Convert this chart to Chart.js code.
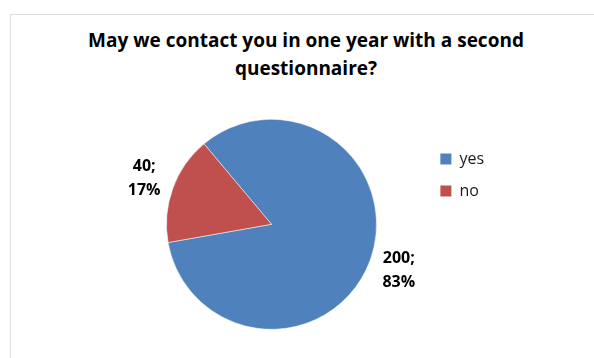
<!DOCTYPE html>
<html>
<head>
<meta charset="utf-8">
<script src="https://cdn.jsdelivr.net/npm/chart.js@4.4.0/dist/chart.umd.min.js"></script>
<style>
  html, body { margin: 0; padding: 0; background: #fff; overflow: hidden; }
  #wrap { position: relative; width: 594px; height: 358px; overflow: hidden; }
  #frame { position: absolute; left: 10px; top: 14px; width: 640px; height: 400px; border: 1px solid #dedede; }
  #title {
    position: absolute; left: 6px; top: 27px; width: 600px; margin: 0;
    font: bold 19px/27.5px "Open Sans", sans-serif; color: #000; text-align: center;
  }
  #chart { position: absolute; left: 0; top: 0; }
</style>
</head>
<body>
<div id="wrap">
  <div id="frame"></div>
  <h1 id="title"></h1>
  <canvas id="chart" width="594" height="358" style="width:594px;height:358px;"></canvas>
</div>
<script>
// Survey answers
const categories = ['yes', 'no'];
const answers = [200, 40];
const sliceColors = ['#4F81BD', '#C0504D'];
const titleLines = ['May we contact you in one year with a second', 'questionnaire?'];

const FONT = '"Open Sans", sans-serif';

// two-line heading above the pie
const heading = document.getElementById('title');
titleLines.forEach((line, i) => {
    if (i > 0) heading.appendChild(document.createElement('br'));
    heading.appendChild(document.createTextNode(line));
});

// "value; percent" labels just outside each slice
const sliceLabels = {
    id: 'sliceLabels',
    afterDatasetsDraw(chart) {
        const ctx = chart.ctx;
        const meta = chart.getDatasetMeta(0);
        const total = answers.reduce((a, b) => a + b, 0);
        ctx.save();
        ctx.font = 'bold 16px ' + FONT;
        ctx.fillStyle = '#000';
        ctx.textAlign = 'center';
        ctx.textBaseline = 'middle';
        meta.data.forEach((arc, i) => {
            const p = arc.getProps(['x', 'y', 'startAngle', 'endAngle', 'outerRadius'], true);
            const mid = (p.startAngle + p.endAngle) / 2;
            const r = p.outerRadius + 30.5;
            const cx = p.x + Math.cos(mid) * r;
            const cy = p.y + Math.sin(mid) * r;
            const pct = Math.round(answers[i] / total * 100);
            ctx.fillText(answers[i] + ';', cx, cy - 12);
            ctx.fillText(pct + '%', cx, cy + 12);
        });
        ctx.restore();
    }
};

// legend boxes without the white slice outline
function legendLabels(chart) {
    const items = Chart.overrides.pie.plugins.legend.labels.generateLabels(chart);
    items.forEach(it => { it.lineWidth = 0; });
    return items;
}

new Chart(document.getElementById('chart'), {
    type: 'pie',
    data: {
        labels: categories,
        datasets: [{
            data: answers,
            backgroundColor: sliceColors,
            borderColor: 'rgba(255, 255, 255, 0.5)',
            borderWidth: 1,
            radius: 105,
            rotation: 320,
            clip: false
        }]
    },
    options: {
        responsive: false,
        animation: false,
        layout: {
            padding: { top: 135, left: 118.6, right: 100, bottom: 44.4 }
        },
        plugins: {
            title: { display: false },
            legend: {
                position: 'right',
                align: 'start',
                fullSize: false,
                labels: {
                    font: { family: FONT, size: 16 },
                    color: '#1a1a1a',
                    boxWidth: 11,
                    boxHeight: 11,
                    padding: 16,
                    generateLabels: legendLabels
                }
            },
            tooltip: { enabled: false }
        }
    },
    plugins: [sliceLabels]
});
</script>
</body>
</html>
